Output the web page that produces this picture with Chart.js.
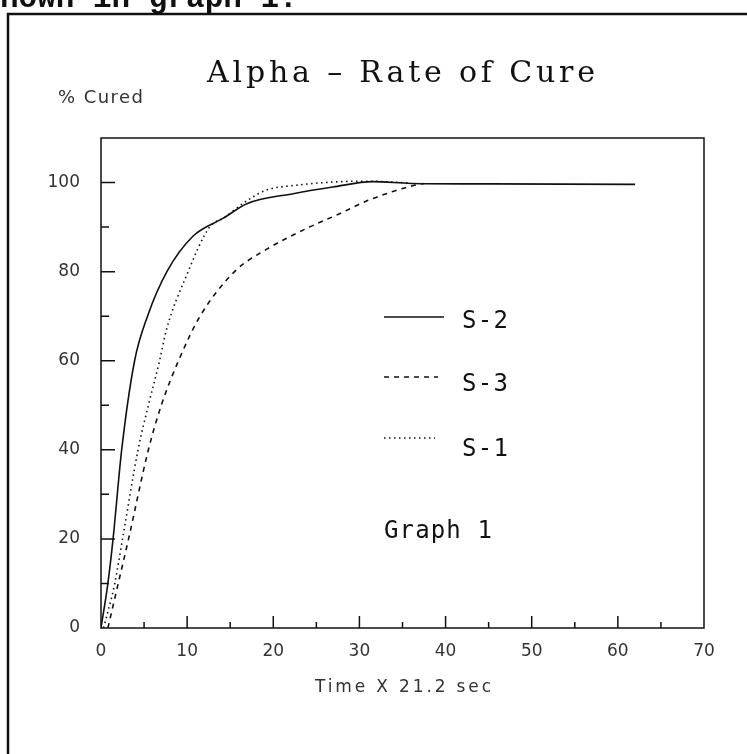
<!DOCTYPE html>
<html>
<head>
<meta charset="utf-8">
<title>Alpha - Rate of Cure</title>
<script src="https://cdn.jsdelivr.net/npm/chart.js@4.4.1/dist/chart.umd.min.js"></script>
<style>
  html, body { margin: 0; padding: 0; background: #fff; }
  #wrap { width: 747px; height: 754px; position: relative; }
</style>
</head>
<body>
<div id="wrap"><canvas id="cureChart" width="747" height="754"></canvas></div>
<script>
// values
const s2Time = [0, 0.8, 1.4, 2.4, 3.9, 5.4, 7.65, 10.7, 14.2, 17, 22.3, 26.9, 31.6, 36, 45, 62];
const s2Cure = [0, 10, 20, 40, 60, 70, 80, 88, 92, 95.3, 97.5, 99, 100.2, 99.8, 99.7, 99.6];

const s3Time = [0.8, 2.0, 3.2, 5.5, 7.0, 9.0, 11.5, 15.5, 19.2, 24.2, 27.7, 31, 33.9, 36.2, 37.5];
const s3Cure = [0, 10, 20, 40, 50, 60, 70, 80, 85, 90, 93, 96, 98, 99.3, 99.8];

const s1Time = [0.3, 1.6, 2.5, 4.3, 5.5, 6.8, 7.6, 9.9, 12.6, 14.2, 17, 19.2, 22.7, 27.7, 31, 36];
const s1Cure = [0, 10, 20, 40, 50, 60, 67, 79, 90, 92, 96, 98.3, 99.4, 100.2, 100.3, 99.9];

const seriesNames = ["S-2", "S-3", "S-1"];
const xTicks = [0, 10, 20, 30, 40, 50, 60, 70];
const yTicks = [0, 20, 40, 60, 80, 100];

const ink = "#111";

function toPoints(xs, ys) {
  return xs.map((x, i) => ({ x: x, y: ys[i] }));
}

// spread a string out so it covers a given width
function fitText(ctx, text, x, y, width) {
  ctx.letterSpacing = "0px";
  const w = ctx.measureText(text).width;
  const sp = (width - w) / (text.length - 1);
  ctx.letterSpacing = sp + "px";
  ctx.fillText(text, x, y);
  ctx.letterSpacing = "0px";
}

const decor = {
  id: "decor",
  afterDraw(chart) {
    const ctx = chart.ctx;
    const a = chart.chartArea;
    const xs = chart.scales.x;
    const ys = chart.scales.y;
    ctx.save();
    ctx.strokeStyle = ink;
    ctx.fillStyle = ink;

    // plot box
    ctx.lineWidth = 1.5;
    ctx.strokeRect(a.left, a.top, a.right - a.left, a.bottom - a.top);

    // inward ticks, long on labelled values
    ctx.beginPath();
    for (let v = 5; v < 70; v += 5) {
      const px = xs.getPixelForValue(v);
      const len = v % 10 === 0 ? 12 : 6;
      ctx.moveTo(px, a.bottom);
      ctx.lineTo(px, a.bottom - len);
    }
    for (let v = 10; v <= 100; v += 10) {
      const py = ys.getPixelForValue(v);
      const len = v % 20 === 0 ? 14 : 8;
      ctx.moveTo(a.left, py);
      ctx.lineTo(a.left + len, py);
    }
    ctx.stroke();

    // page frame
    ctx.lineWidth = 2.5;
    ctx.beginPath();
    ctx.moveTo(8, 760);
    ctx.lineTo(8, 14);
    ctx.lineTo(760, 14);
    ctx.stroke();

    ctx.textAlign = "left";
    ctx.textBaseline = "alphabetic";

    // cut-off line of the report text above the figure
    ctx.font = "bold 31px 'Liberation Mono'";
    ctx.fillText("shown in graph 1.", -18.6, 7);

    ctx.font = "30px 'DejaVu Serif'";
    fitText(ctx, "Alpha \u2013 Rate of Cure", 207, 82, 388);

    ctx.fillStyle = "#333";
    ctx.font = "18px 'DejaVu Sans'";
    fitText(ctx, "% Cured", 58, 103, 85);
    ctx.font = "17px 'DejaVu Sans'";
    fitText(ctx, "Time X 21.2 sec", 315, 692, 176);

    // legend
    ctx.fillStyle = ink;
    const rows = [
      { line: 317, text: 328, x2: 444 },
      { line: 377, text: 391, x2: 438 },
      { line: 438, text: 456, x2: 435 }
    ];
    ctx.font = "24px 'DejaVu Sans Mono'";
    chart.data.datasets.forEach((ds, i) => {
      const r = rows[i];
      ctx.lineWidth = ds.borderWidth;
      ctx.setLineDash(ds.borderDash || []);
      ctx.beginPath();
      ctx.moveTo(384, r.line);
      ctx.lineTo(r.x2, r.line);
      ctx.stroke();
      ctx.setLineDash([]);
      fitText(ctx, ds.label, 462, r.text, 46);
    });

    fitText(ctx, "Graph 1", 384, 538, 108);
    ctx.restore();
  }
};

const ctx = document.getElementById("cureChart").getContext("2d");
const chart = new Chart(ctx, {
  type: "line",
  data: {
    datasets: [
      {
        label: seriesNames[0],
        data: toPoints(s2Time, s2Cure),
        borderColor: ink,
        borderWidth: 1.6,
        borderDash: []
      },
      {
        label: seriesNames[1],
        data: toPoints(s3Time, s3Cure),
        borderColor: ink,
        borderWidth: 1.6,
        borderDash: [5, 5]
      },
      {
        label: seriesNames[2],
        data: toPoints(s1Time, s1Cure),
        borderColor: ink,
        borderWidth: 1.6,
        borderDash: [1.5, 3.5]
      }
    ]
  },
  options: {
    responsive: false,
    animation: false,
    events: [],
    layout: { padding: { left: 0, top: 138, right: 43, bottom: 0 } },
    elements: {
      point: { radius: 0 },
      line: { cubicInterpolationMode: "monotone", fill: false }
    },
    plugins: {
      legend: { display: false },
      title: { display: false },
      tooltip: { enabled: false }
    },
    scales: {
      x: {
        type: "linear",
        min: 0,
        max: 70,
        afterBuildTicks: (scale) => { scale.ticks = xTicks.map(v => ({ value: v })); },
        afterFit: (scale) => { scale.height = 126; },
        grid: { display: false, drawTicks: false },
        border: { display: false },
        ticks: {
          padding: 13,
          color: "#333",
          font: { family: "'DejaVu Sans'", size: 17 }
        }
      },
      y: {
        type: "linear",
        min: 0,
        max: 110,
        afterBuildTicks: (scale) => { scale.ticks = yTicks.map(v => ({ value: v })); },
        afterFit: (scale) => { scale.width = 101; },
        grid: { display: false, drawTicks: false },
        border: { display: false },
        ticks: {
          padding: 21,
          color: "#333",
          font: { family: "'DejaVu Sans'", size: 17 }
        }
      }
    }
  },
  plugins: [decor]
});
</script>
</body>
</html>
